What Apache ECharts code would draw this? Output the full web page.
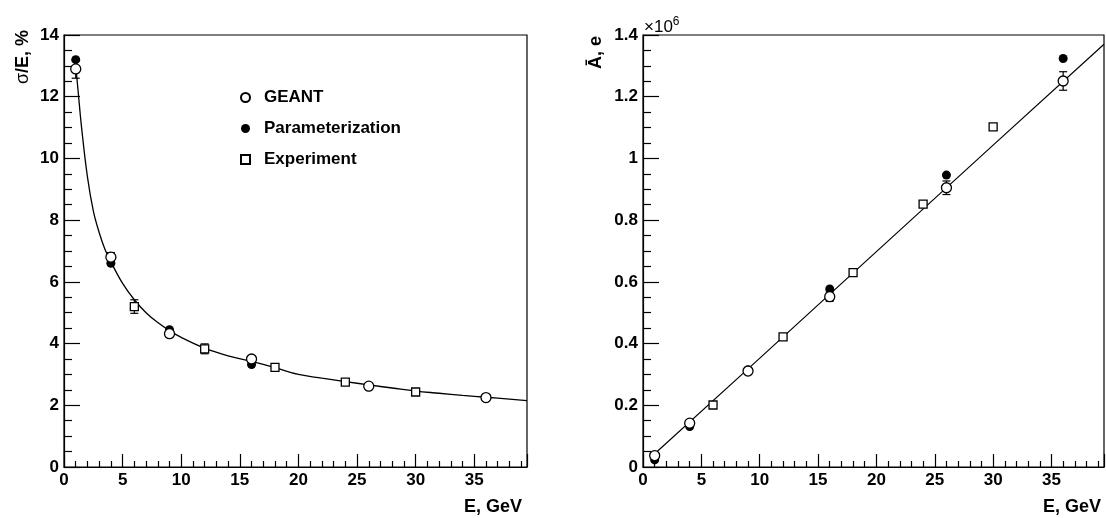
<!DOCTYPE html>
<html>
<head>
<meta charset="utf-8">
<script src="https://cdn.jsdelivr.net/npm/echarts@6/dist/echarts.min.js"></script>
<style>
  html, body { margin: 0; padding: 0; background: #fff; }
  #chart { width: 1106px; height: 518px; }
</style>
</head>
<body>
<div id="chart"></div>
<script>
// Energy resolution (left) and mean amplitude (right) versus beam energy.

// Energies, GeV
const energySim = [1, 4, 9, 16, 26, 36];
const energyExp = [6, 12, 18, 24, 30];

// sigma/E, %
const resGeant = [12.9, 6.8, 4.32, 3.5, 2.62, 2.25];
const resGeantErr = [0.3, 0.15, 0.08, 0.06, 0.05, 0.04];
const resParam = [13.2, 6.6, 4.45, 3.32, 2.6, 2.22];
const resExp = [5.2, 3.83, 3.23, 2.75, 2.43];
const resExpErr = [0.22, 0.16, 0.05, 0.05, 0.04];

// Fitted resolution curve (E, sigma/E)
const resFitE = [1.0, 1.2, 1.5, 2.0, 2.5, 3.0, 3.5, 4.0, 5.0, 6.0, 7.0, 8.0, 9.0, 10, 12, 14, 16, 18, 20, 22, 24, 26, 28, 30, 32, 34, 36, 38, 39.5];
const resFitV = [13.0, 12.2, 11.0, 9.4, 8.3, 7.6, 7.05, 6.65, 5.95, 5.42, 5.0, 4.68, 4.42, 4.2, 3.85, 3.6, 3.42, 3.22, 3.0, 2.88, 2.77, 2.66, 2.56, 2.46, 2.39, 2.32, 2.26, 2.2, 2.15];

// Mean amplitude, electrons
const ampGeant = [37000, 142000, 311000, 552000, 905000, 1251000];
const ampGeantErr = [4000, 6000, 8000, 15000, 22000, 30000];
const ampParam = [23000, 131000, 315000, 577000, 946000, 1324000];
const ampExp = [201000, 422000, 630000, 852000, 1102000];

// Fitted amplitude line (E, electrons)
const ampFitE = [1, 9, 20, 30, 39.5];
const ampFitV = [43000, 318000, 698000, 1043000, 1370000];

// Axis ticks
const xTicks = [0, 5, 10, 15, 20, 25, 30, 35];
const legendNames = ['GEANT', 'Parameterization', 'Experiment'];

const FONT = '"Liberation Sans", Arial, Helvetica, sans-serif';
const zip = (xs, ys) => xs.map((x, i) => [x, ys[i]]);
const zipErr = (xs, ys, es) => xs.map((x, i) => [x, ys[i] - es[i], ys[i] + es[i]]);

function errorBars(name, xIdx, yIdx, data) {
  return {
    name: name,
    type: 'custom',
    xAxisIndex: xIdx,
    yAxisIndex: yIdx,
    z: 3,
    silent: true,
    data: data,
    renderItem: function (params, api) {
      const lo = api.coord([api.value(0), api.value(1)]);
      const hi = api.coord([api.value(0), api.value(2)]);
      const w = 4;
      const st = { stroke: '#000', lineWidth: 1.2 };
      return {
        type: 'group',
        children: [
          { type: 'line', shape: { x1: lo[0], y1: lo[1], x2: hi[0], y2: hi[1] }, style: st },
          { type: 'line', shape: { x1: lo[0] - w, y1: lo[1], x2: lo[0] + w, y2: lo[1] }, style: st },
          { type: 'line', shape: { x1: hi[0] - w, y1: hi[1], x2: hi[0] + w, y2: hi[1] }, style: st }
        ]
      };
    }
  };
}

function xAxisDef(gridIndex) {
  return {
    type: 'value', gridIndex: gridIndex, min: 0, max: 39.5, interval: 5,
    axisLine: { onZero: false, lineStyle: { color: '#000', width: 1.2 } },
    axisTick: { inside: true, length: 13, lineStyle: { color: '#000', width: 1.2 } },
    minorTick: { show: true, splitNumber: 5, length: 6, lineStyle: { color: '#000', width: 1.2 } },
    splitLine: { show: false },
    axisLabel: {
      margin: 5, color: '#000', fontFamily: FONT, fontWeight: 'bold', fontSize: 17,
      showMaxLabel: false,
      formatter: v => (xTicks.indexOf(v) >= 0 ? String(v) : '')
    }
  };
}

function yAxisDef(gridIndex, max, interval, formatter) {
  return {
    type: 'value', gridIndex: gridIndex, min: 0, max: max, interval: interval,
    axisLine: { lineStyle: { color: '#000', width: 1.2 } },
    axisTick: { inside: true, length: 16, lineStyle: { color: '#000', width: 1.2 } },
    minorTick: { show: true, splitNumber: 4, length: 8, lineStyle: { color: '#000', width: 1.2 } },
    splitLine: { show: false },
    axisLabel: {
      margin: 5, color: '#000', fontFamily: FONT, fontWeight: 'bold', fontSize: 17,
      formatter: formatter
    }
  };
}

const openCircle = { color: '#fff', borderColor: '#000', borderWidth: 1.3, opacity: 1 };
const filled = { color: '#000', borderColor: '#000', borderWidth: 0, opacity: 1 };
const openSquare = { color: '#fff', borderColor: '#000', borderWidth: 1.3, opacity: 1 };

const chart = echarts.init(document.getElementById('chart'), null, { renderer: 'canvas' });

chart.setOption({
  animation: false,
  backgroundColor: '#fff',
  grid: [
    { left: 64, top: 35, width: 463, height: 432, show: true, borderColor: '#000', borderWidth: 1.2 },
    { left: 643, top: 35, width: 461, height: 432, show: true, borderColor: '#000', borderWidth: 1.2 }
  ],
  xAxis: [xAxisDef(0), xAxisDef(1)],
  yAxis: [
    yAxisDef(0, 14, 2, v => String(v)),
    yAxisDef(1, 1400000, 200000, v => String(Math.round(v / 1e5) / 10))
  ],
  legend: {
    data: legendNames,
    orient: 'vertical',
    left: 235,
    top: 84,
    itemWidth: 9,
    itemHeight: 9,
    itemGap: 14,
    textStyle: { color: '#000', fontFamily: FONT, fontWeight: 'bold', fontSize: 17, padding: [0, 0, 0, 9] },
    selectedMode: false
  },
  graphic: [
    {
      type: 'text', x: 23, y: 30, rotation: Math.PI / 2,
      style: {
        text: '{s|σ}/E, %', align: 'right', verticalAlign: 'middle',
        fontFamily: FONT, fontWeight: 'bold', fontSize: 18, fill: '#000',
        rich: { s: { fontFamily: FONT, fontWeight: 'normal', fontSize: 18, fill: '#000' } }
      }
    },
    {
      type: 'text', x: 596, y: 36, rotation: Math.PI / 2,
      style: {
        text: 'Ā, e', align: 'right', verticalAlign: 'middle',
        fontFamily: FONT, fontWeight: 'bold', fontSize: 18, fill: '#000'
      }
    },
    {
      type: 'text', x: 644, y: 27,
      style: {
        text: '×10{sup|6}', align: 'left', verticalAlign: 'middle',
        fontFamily: FONT, fontSize: 17, fill: '#000',
        rich: { sup: { fontFamily: FONT, fontSize: 12, fill: '#000', padding: [0, 0, 10, 0] } }
      }
    },
    {
      type: 'text', x: 522, y: 507,
      style: { text: 'E, GeV', align: 'right', verticalAlign: 'middle', fontFamily: FONT, fontWeight: 'bold', fontSize: 18, fill: '#000' }
    },
    {
      type: 'text', x: 1101, y: 507,
      style: { text: 'E, GeV', align: 'right', verticalAlign: 'middle', fontFamily: FONT, fontWeight: 'bold', fontSize: 18, fill: '#000' }
    }
  ],
  series: [
    // left panel
    {
      name: 'fit-res', type: 'line', xAxisIndex: 0, yAxisIndex: 0, data: zip(resFitE, resFitV),
      smooth: 0.4, showSymbol: false, lineStyle: { color: '#000', width: 1.3 }, z: 1, silent: true
    },
    errorBars('GEANT-err-res', 0, 0, zipErr(energySim, resGeant, resGeantErr)),
    errorBars('Experiment-err-res', 0, 0, zipErr(energyExp, resExp, resExpErr)),
    {
      name: 'Parameterization', type: 'scatter', xAxisIndex: 0, yAxisIndex: 0, data: zip(energySim, resParam),
      symbol: 'circle', symbolSize: 9, itemStyle: filled, z: 4
    },
    {
      name: 'GEANT', type: 'scatter', xAxisIndex: 0, yAxisIndex: 0, data: zip(energySim, resGeant),
      symbol: 'circle', symbolSize: 10, itemStyle: openCircle, z: 5
    },
    {
      name: 'Experiment', type: 'scatter', xAxisIndex: 0, yAxisIndex: 0, data: zip(energyExp, resExp),
      symbol: 'rect', symbolSize: 8, itemStyle: openSquare, z: 5
    },
    // right panel
    {
      name: 'fit-amp', type: 'line', xAxisIndex: 1, yAxisIndex: 1, data: zip(ampFitE, ampFitV),
      showSymbol: false, lineStyle: { color: '#000', width: 1.2 }, z: 1, silent: true
    },
    errorBars('GEANT-err-amp', 1, 1, zipErr(energySim, ampGeant, ampGeantErr)),
    {
      name: 'Parameterization', type: 'scatter', xAxisIndex: 1, yAxisIndex: 1, data: zip(energySim, ampParam),
      symbol: 'circle', symbolSize: 9, itemStyle: filled, z: 4
    },
    {
      name: 'GEANT', type: 'scatter', xAxisIndex: 1, yAxisIndex: 1, data: zip(energySim, ampGeant),
      symbol: 'circle', symbolSize: 10, itemStyle: openCircle, z: 5
    },
    {
      name: 'Experiment', type: 'scatter', xAxisIndex: 1, yAxisIndex: 1, data: zip(energyExp, ampExp),
      symbol: 'rect', symbolSize: 8, itemStyle: openSquare, z: 5
    }
  ]
});
</script>
</body>
</html>
